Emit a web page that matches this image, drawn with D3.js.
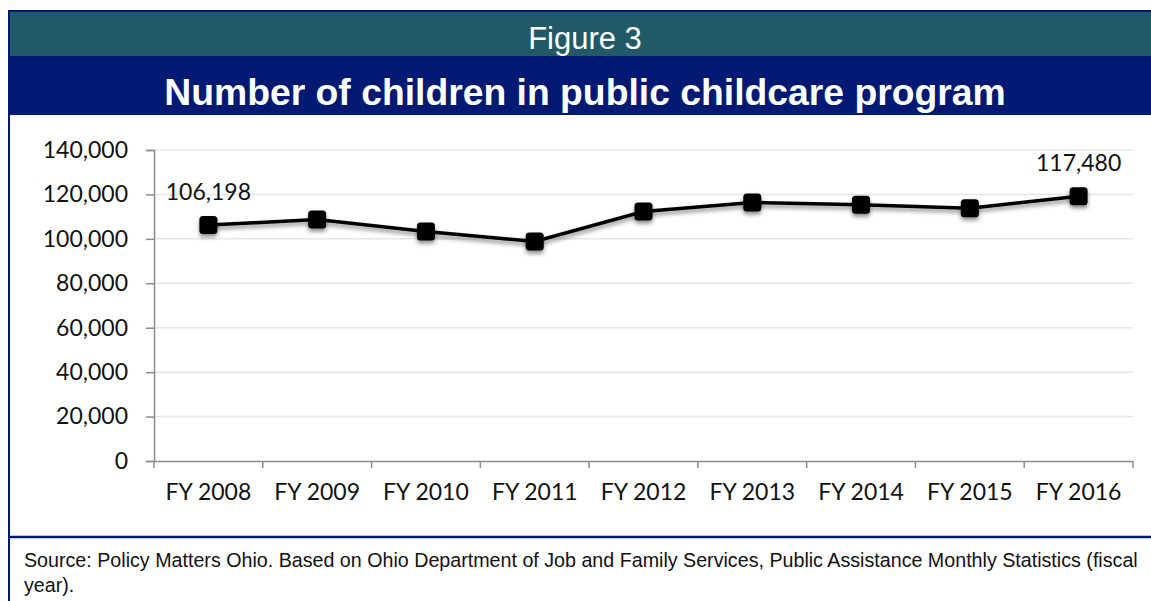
<!DOCTYPE html>
<html>
<head>
<meta charset="utf-8">
<script src="https://cdn.jsdelivr.net/npm/d3@7"></script>
<style>
  html, body { margin: 0; padding: 0; background: #fff; }
  svg { display: block; }
</style>
</head>
<body>
<svg id="chart" width="1151" height="601"></svg>
<script>
const categories = ["FY 2008", "FY 2009", "FY 2010", "FY 2011", "FY 2012", "FY 2013", "FY 2014", "FY 2015", "FY 2016"];
const children = [106198, 108700, 103300, 98800, 112300, 116400, 115300, 113800, 119200];
const pointLabels = ["106,198", null, null, null, null, null, null, null, "117,480"];
const yTicks = [0, 20000, 40000, 60000, 80000, 100000, 120000, 140000];
const figureLabel = "Figure 3";
const titleText = "Number of children in public childcare program";
const sourceLines = [
  "Source: Policy Matters Ohio. Based on Ohio Department of Job and Family Services, Public Assistance Monthly Statistics (fiscal",
  "year)."
];

const svg = d3.select("#chart");
const W = 1151, H = 601;
const navy = "#001a73", teal = "#225966";
const tickFont = "Lato, 'Open Sans', sans-serif";

// Frame and header bands
svg.append("rect").attr("x", 9).attr("y", 11).attr("width", W - 9 + 2).attr("height", H - 11 + 2)
  .attr("fill", "#fff").attr("stroke", navy).attr("stroke-width", 2);
svg.append("rect").attr("x", 10).attr("y", 12).attr("width", W - 10).attr("height", 44).attr("fill", teal);
svg.append("rect").attr("x", 10).attr("y", 56).attr("width", W - 10).attr("height", 59).attr("fill", navy);
svg.append("line").attr("x1", 9).attr("x2", W).attr("y1", 537).attr("y2", 537)
  .attr("stroke", navy).attr("stroke-width", 2.5);

svg.append("text").attr("x", 585).attr("y", 49).attr("text-anchor", "middle")
  .attr("font-family", "'Liberation Sans', Arial, sans-serif").attr("font-size", 31)
  .attr("fill", "#fff").text(figureLabel);
svg.append("text").attr("x", 585).attr("y", 105).attr("text-anchor", "middle")
  .attr("font-family", "'Liberation Sans', Arial, sans-serif").attr("font-weight", "bold")
  .attr("font-size", 37.3).attr("fill", "#fff").text(titleText);

svg.append("g").attr("transform", "translate(24,0) scale(0.96,1)")
  .selectAll("text").data(sourceLines).join("text")
  .attr("x", 0).attr("y", (d, i) => 567 + i * 25)
  .attr("font-family", "'Liberation Sans', Arial, sans-serif").attr("font-size", 20.5)
  .attr("fill", "#111")
  .text(d => d);

// Scales
const x = d3.scaleBand().domain(categories).range([154, 1133]).padding(0);
const y = d3.scaleLinear().domain([0, 140000]).range([461, 150]);

// Gridlines
svg.append("g").selectAll("line").data(yTicks.filter(d => d > 0)).join("line")
  .attr("x1", 154).attr("x2", 1133).attr("y1", d => y(d)).attr("y2", d => y(d))
  .attr("stroke", "#e6e6e6").attr("stroke-width", 1.5);

// Y axis
const yAxis = svg.append("g").attr("transform", "translate(154,0)")
  .call(d3.axisLeft(y).tickValues(yTicks).tickFormat(d3.format(",")).tickSize(8).tickPadding(18));
yAxis.select(".domain").attr("stroke", "#8c8c8c").attr("stroke-width", 1.5);
yAxis.selectAll(".tick line").attr("stroke", "#8c8c8c").attr("stroke-width", 1.5);
yAxis.selectAll(".tick text").attr("font-family", tickFont).attr("font-size", 23).attr("fill", "#111");

// X axis
const xAxis = svg.append("g").attr("transform", "translate(0,461)")
  .call(d3.axisBottom(x).tickSize(0).tickPadding(23));
xAxis.select(".domain").attr("stroke", "#8c8c8c").attr("stroke-width", 1.5);
xAxis.selectAll(".tick text").attr("font-family", tickFont).attr("font-size", 23).attr("fill", "#111");
const bounds = categories.map(c => x(c)).concat([x.range()[1]]);
xAxis.append("g").selectAll("line").data(bounds).join("line")
  .attr("x1", d => d).attr("x2", d => d).attr("y1", 0).attr("y2", 7)
  .attr("stroke", "#8c8c8c").attr("stroke-width", 1.5);

// Shadow filter
const defs = svg.append("defs");
const f = defs.append("filter").attr("id", "shadow").attr("x", "-50%").attr("y", "-50%")
  .attr("width", "200%").attr("height", "200%");
f.append("feDropShadow").attr("dx", 0).attr("dy", 3).attr("stdDeviation", 2.2)
  .attr("flood-color", "#000").attr("flood-opacity", 0.45);

const cx = d => x(d) + x.bandwidth() / 2;

// Line
const line = d3.line().x((d, i) => cx(categories[i])).y(d => y(d));
svg.append("path").datum(children).attr("d", line)
  .attr("fill", "none").attr("stroke", "#000").attr("stroke-width", 3.5)
  .attr("filter", "url(#shadow)");

// Markers
const ms = 18;
svg.append("g").selectAll("rect").data(children).join("rect")
  .attr("x", (d, i) => cx(categories[i]) - ms / 2).attr("y", d => y(d) - ms / 2)
  .attr("width", ms).attr("height", ms).attr("rx", 3.5).attr("ry", 3.5)
  .attr("fill", "#000").attr("filter", "url(#shadow)");

// Data labels
svg.append("g").selectAll("text").data(children.map((v, i) => ({ v, i, t: pointLabels[i] })).filter(d => d.t))
  .join("text")
  .attr("x", d => cx(categories[d.i])).attr("y", d => y(d.v) - 25)
  .attr("text-anchor", "middle").attr("font-family", tickFont).attr("font-size", 23)
  .attr("fill", "#111").text(d => d.t);
</script>
</body>
</html>
